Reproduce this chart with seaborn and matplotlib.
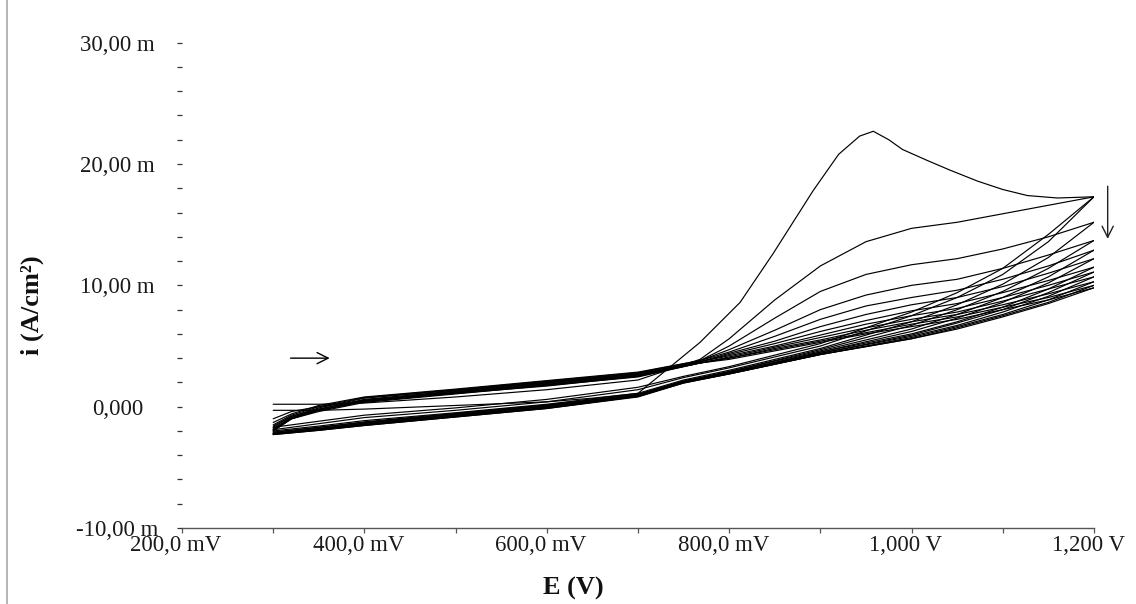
import matplotlib
matplotlib.use("Agg")
import matplotlib.pyplot as plt
import matplotlib.transforms as mtransforms
from matplotlib.lines import Line2D
import pandas as pd
import seaborn as sns

# ---- cyclic voltammetry data: potential in mV, current density in mA/cm2 ----

# first cycle, anodic sweep (oxidation peak near 958 mV)
E_fwd_first = [300, 350, 400, 500, 600, 650, 700, 768, 812, 848, 892, 920,
               943, 958, 975, 990, 1017, 1042, 1072, 1100, 1127, 1160, 1200]
i_fwd_first = [-0.3, -0.3, -0.2, 0.1, 0.4, 0.7, 1.1, 5.3, 8.6, 12.6, 17.8, 20.8,
               22.3, 22.7, 22.0, 21.2, 20.3, 19.5, 18.6, 17.9, 17.4, 17.2, 17.3]

# anodic sweeps of the following cycles
E_fwd = [300, 320, 350, 400, 500, 600, 700, 768, 800, 850, 900, 950, 1000, 1050, 1100, 1150, 1200]
i_fwd_c2 = [0.2, 0.2, 0.2, 0.3, 0.8, 1.4, 2.2, 3.9, 5.6, 8.8, 11.6, 13.6, 14.7, 15.2, 15.9, 16.6, 17.3]
i_fwd_c3 = [-1.0, -0.4, 0.0, 0.5, 1.1, 1.7, 2.5, 3.8, 5.0, 7.3, 9.5, 10.9, 11.7, 12.2, 13.0, 14.0, 15.2]
i_fwd_c4 = [-1.3, -0.6, 0.1, 0.8, 1.45, 2.15, 2.85, 3.8, 4.7, 6.3, 8.0, 9.2, 10.0, 10.5, 11.4, 12.5, 13.7]
i_fwd_c5 = [-1.5, -0.7, 0.0, 0.75, 1.4, 2.1, 2.8, 3.8, 4.5, 5.8, 7.2, 8.3, 9.0, 9.6, 10.5, 11.6, 12.9]
i_fwd_c6 = [-1.6, -0.8, -0.1, 0.7, 1.35, 2.05, 2.75, 3.7, 4.4, 5.4, 6.6, 7.6, 8.4, 9.0, 9.9, 11.0, 12.2]
i_fwd_c7 = [-1.7, -0.8, -0.2, 0.6, 1.3, 2.0, 2.7, 3.7, 4.3, 5.2, 6.2, 7.1, 7.9, 8.5, 9.4, 10.4, 11.5]
i_fwd_c8 = [-1.8, -0.9, -0.2, 0.55, 1.25, 1.95, 2.65, 3.7, 4.2, 5.0, 5.9, 6.8, 7.5, 8.1, 9.0, 10.0, 11.1]
i_fwd_c9 = [-1.9, -0.9, -0.3, 0.5, 1.2, 1.9, 2.6, 3.6, 4.1, 4.9, 5.7, 6.5, 7.2, 7.8, 8.7, 9.7, 10.7]
i_fwd_c10 = [-1.9, -1.0, -0.3, 0.45, 1.15, 1.85, 2.55, 3.6, 4.0, 4.8, 5.5, 6.3, 7.0, 7.6, 8.4, 9.3, 10.3]
i_fwd_c11 = [-2.0, -1.0, -0.3, 0.4, 1.1, 1.8, 2.5, 3.6, 4.0, 4.7, 5.4, 6.1, 6.8, 7.4, 8.2, 9.0, 10.0]
i_fwd_c12 = [-2.0, -1.0, -0.4, 0.35, 1.05, 1.75, 2.45, 3.6, 3.9, 4.6, 5.3, 6.0, 6.6, 7.2, 8.0, 8.8, 9.8]

# cathodic (return) sweeps, 1200 mV back to 300 mV
E_rev = [1200, 1150, 1100, 1050, 1000, 900, 800, 750, 700, 600, 500, 400, 350, 300]
i_rev_c1 = [17.3, 14.2, 11.4, 9.4, 7.8, 5.2, 3.3, 2.5, 1.6, 0.6, -0.1, -0.7, -1.2, -1.7]
i_rev_c2 = [17.3, 13.6, 10.9, 9.0, 7.5, 5.0, 3.2, 2.4, 1.4, 0.4, -0.3, -0.9, -1.4, -1.9]
i_rev_c3 = [15.2, 12.3, 10.1, 8.4, 7.0, 4.8, 3.0, 2.2, 1.1, 0.2, -0.5, -1.15, -1.6, -2.0]
i_rev_c4 = [13.7, 11.4, 9.5, 8.0, 6.7, 4.7, 2.9, 2.1, 1.0, 0.15, -0.55, -1.25, -1.7, -2.1]
i_rev_c5 = [12.9, 10.7, 9.0, 7.6, 6.4, 4.6, 2.9, 2.1, 1.0, 0.1, -0.6, -1.3, -1.7, -2.1]
i_rev_c6 = [12.2, 10.2, 8.6, 7.3, 6.2, 4.5, 2.8, 2.1, 1.0, 0.05, -0.65, -1.35, -1.8, -2.2]
i_rev_c7 = [11.5, 9.7, 8.2, 7.0, 6.0, 4.5, 2.8, 2.1, 0.95, 0.0, -0.7, -1.4, -1.8, -2.2]
i_rev_c8 = [11.1, 9.4, 8.0, 6.9, 5.9, 4.4, 2.8, 2.0, 0.9, -0.05, -0.75, -1.45, -1.85, -2.2]
i_rev_c9 = [10.7, 9.1, 7.8, 6.7, 5.8, 4.4, 2.8, 2.0, 0.9, -0.1, -0.8, -1.5, -1.9, -2.25]
i_rev_c10 = [10.3, 8.8, 7.6, 6.6, 5.7, 4.3, 2.7, 2.0, 0.85, -0.1, -0.8, -1.5, -1.9, -2.25]
i_rev_c11 = [10.0, 8.6, 7.5, 6.5, 5.6, 4.3, 2.7, 1.95, 0.85, -0.15, -0.85, -1.55, -1.95, -2.3]
i_rev_c12 = [9.8, 8.5, 7.4, 6.4, 5.6, 4.3, 2.7, 1.95, 0.8, -0.15, -0.85, -1.55, -1.95, -2.3]

# axis ticks and labels
x_major = [200, 400, 600, 800, 1000, 1200]
x_minor = [300, 500, 700, 900, 1100]
x_labels = ["200,0 mV", "400,0 mV", "600,0 mV", "800,0 mV", "1,000 V", "1,200 V"]
y_major = [-10, 0, 10, 20, 30]
y_minor = [-8, -6, -4, -2, 2, 4, 6, 8, 12, 14, 16, 18, 22, 24, 26, 28]
y_labels = ["-10,00 m", "0,000", "10,00 m", "20,00 m", "30,00 m"]

# ---- assemble long-form table: one trace per sweep ----
fwd_sets = [i_fwd_c2, i_fwd_c3, i_fwd_c4, i_fwd_c5, i_fwd_c6, i_fwd_c7,
            i_fwd_c8, i_fwd_c9, i_fwd_c10, i_fwd_c11, i_fwd_c12]
rev_sets = [i_rev_c1, i_rev_c2, i_rev_c3, i_rev_c4, i_rev_c5, i_rev_c6,
            i_rev_c7, i_rev_c8, i_rev_c9, i_rev_c10, i_rev_c11, i_rev_c12]

frames = [pd.DataFrame({"E": E_fwd_first, "i": i_fwd_first, "trace": "c1_fwd"})]
for n, vals in enumerate(fwd_sets, start=2):
    frames.append(pd.DataFrame({"E": E_fwd, "i": vals, "trace": f"c{n}_fwd"}))
for n, vals in enumerate(rev_sets, start=1):
    frames.append(pd.DataFrame({"E": E_rev, "i": vals, "trace": f"c{n}_rev"}))
df = pd.concat(frames, ignore_index=True)

# ---- figure ----
sns.set_style("white")
plt.rcParams["font.family"] = ["Liberation Serif", "DejaVu Serif"]

W, H = 1136, 604
fig = plt.figure(figsize=(W / 100, H / 100), dpi=100)
ax = fig.add_axes([182 / W, 1 - 528 / H, (1094 - 182) / W, (528 - 42.7) / H])

sns.lineplot(data=df, x="E", y="i", units="trace", estimator=None, sort=False,
             color="black", linewidth=0.85, ax=ax, legend=False)

ax.set_xlim(200, 1200)
ax.set_ylim(-10, 30)
ax.set_xlabel("")
ax.set_ylabel("")

for side in ("top", "right", "left"):
    ax.spines[side].set_visible(False)
ax.spines["bottom"].set_color("#555555")
ax.spines["bottom"].set_linewidth(1.0)

ax.set_xticks(x_major)
ax.set_xticklabels(x_labels)
ax.set_xticks(x_minor, minor=True)
ax.set_yticks(y_major)
ax.set_yticklabels(y_labels)
ax.set_yticks(y_minor, minor=True)

ax.tick_params(axis="x", which="both", bottom=True, direction="out", length=3.6, width=0.9,
               color="#555555", labelsize=16.5, labelcolor="#1a1a1a", pad=1.5)
ax.tick_params(axis="y", which="both", left=True, direction="out", length=3.6, width=0.9,
               color="#333333", labelsize=16.5, labelcolor="#1a1a1a", pad=43)
for lab in ax.get_yticklabels():
    lab.set_horizontalalignment("center")
shift = mtransforms.ScaledTranslation(-6 / 100, 0, fig.dpi_scale_trans)
for lab in ax.get_xticklabels():
    lab.set_transform(lab.get_transform() + shift)

# axis titles
fig.text(573 / W, 1 - 588 / H, "E (V)", ha="center", va="center",
         fontsize=19, fontweight="bold", color="#111111")
fig.text(32 / W, 1 - 305 / H, "i (A/cm²)", ha="center", va="center",
         rotation=90, fontsize=19, fontweight="bold", color="#111111")

# sweep direction and cycle trend arrows
ax.annotate("", xy=(365, 4.0), xytext=(316, 4.0),
            arrowprops=dict(arrowstyle="->", color="black", lw=1.0, mutation_scale=20))
ax.annotate("", xy=(1215, 13.6), xytext=(1215, 18.4), annotation_clip=False,
            arrowprops=dict(arrowstyle="->", color="#222222", lw=1.0, mutation_scale=20))

# thin frame line along the left edge
fig.add_artist(Line2D([7 / W, 7 / W], [0, 1], transform=fig.transFigure,
                      color="#a8a8a8", linewidth=1.2))

fig.savefig("out.png", dpi=100, facecolor="white")
